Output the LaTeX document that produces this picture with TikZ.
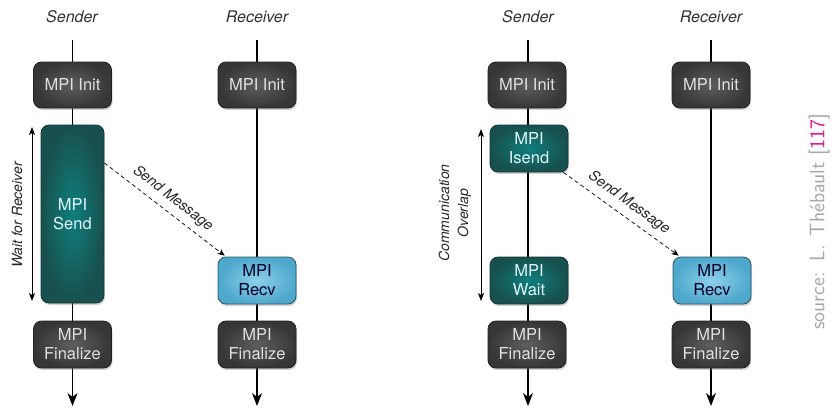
\documentclass[tikz,border=0pt]{standalone}
\usepackage{fontspec}
\newfontfamily\heros{TeX Gyre Heros}
\usetikzlibrary{arrows.meta,shadows,shadings,calc}
\definecolor{dkout}{HTML}{363636}
\definecolor{dkin}{HTML}{5E5E5E}
\definecolor{dkbd}{HTML}{202020}
\definecolor{tlout}{HTML}{17504E}
\definecolor{tlin}{HTML}{0F7F7D}
\definecolor{tlbd}{HTML}{163432}
\definecolor{blout}{HTML}{4EA8CC}
\definecolor{blin}{HTML}{8CCFEA}
\definecolor{blbd}{HTML}{2A5468}
\definecolor{srcgray}{HTML}{A8A8A8}
\definecolor{srcpink}{HTML}{E0148C}
\tikzset{
  boxbase/.style={rounded corners=8pt, draw, line width=0.8pt, align=center,
    inner sep=0pt, minimum width=78pt, minimum height=46pt,
    font=\heros\fontsize{16.5}{19}\selectfont,
    drop shadow={shadow xshift=1pt, shadow yshift=-2pt, opacity=0.35}},
  darkbox/.style={boxbase, draw=dkbd, inner color=dkin, outer color=dkout, text=white!88!black},
  tealbox/.style={boxbase, draw=tlbd, inner color=tlin, outer color=tlout, text=white!88!cyan},
  bluebox/.style={boxbase, draw=blbd, inner color=blin, outer color=blout, text=black!85!blue},
  collabel/.style={font=\heros\itshape\fontsize{16}{18}\selectfont, text=black!80},
  sidelabel/.style={font=\heros\itshape\fontsize{14}{19}\selectfont, text=black!85, align=center},
  msglabel/.style={font=\heros\itshape\fontsize{14.5}{16}\selectfont, text=black!85},
  lifeline/.style={line width=1.2pt, black},
  lifeend/.style={lifeline, -{Stealth[length=13pt,width=10pt,inset=4pt]}},
  msg/.style={line width=0.7pt, dash pattern=on 4pt off 3pt, -{Stealth[length=7pt,width=6pt,inset=2pt]}},
  span/.style={line width=0.8pt, {Stealth[length=8pt,width=6pt,inset=2pt]}-{Stealth[length=8pt,width=6pt,inset=2pt]}}
}
\begin{document}
\begin{tikzpicture}[x=1pt,y=-1pt]
\useasboundingbox (0,0) rectangle (832,408);
% ---------------- left diagram ----------------
\node[collabel] (lsl) at (72,17) {Sender};
\node[collabel] (lrl) at (257,17) {Receiver};
\coordinate (lstop) at (72.5,40);
\coordinate (lsbot) at (72.5,406);
\coordinate (lrtop) at (257,40);
\coordinate (lrbot) at (257,406);
\draw[lifeline] (lstop) -- (72.5,62);
\draw[lifeline] (lrtop) -- (257,62);
\draw[lifeline] (72.5,100) -- (72.5,330);
\draw[lifeline] (257,100) -- (257,330);
\draw[lifeend] (72.5,360) -- (lsbot);
\draw[lifeend] (257,360) -- (lrbot);
\node[darkbox] (lsinit) at (72.5,85) {MPI Init};
\node[tealbox, minimum width=63pt, minimum height=178pt] (lssend) at (72.5,214) {MPI\\Send};
\node[darkbox, minimum height=47pt] (lsfin) at (72.5,344.5) {MPI\\Finalize};
\node[darkbox] (lrinit) at (257,85) {MPI Init};
\node[bluebox, minimum height=47pt] (lrrecv) at (257,280.5) {MPI\\Recv};
\node[darkbox, minimum height=47pt] (lrfin) at (257,344.5) {MPI\\Finalize};
\coordinate (lwa) at (32,127);
\coordinate (lwb) at (32,301);
\draw[span] (lwa) -- (lwb);
\node[sidelabel, rotate=90] (lwl) at (17,215) {Wait for Receiver};
\draw[msg] (lssend.58) -- node[midway, sloped, above=3pt, msglabel] {Send Message} ([xshift=7pt,yshift=1pt]lrrecv.north west);
% ---------------- right diagram ----------------
\node[collabel] (rsl) at (528,17) {Sender};
\node[collabel] (rrl) at (711,17) {Receiver};
\coordinate (rstop) at (528,40);
\coordinate (rsbot) at (528,406);
\coordinate (rrtop) at (711,40);
\coordinate (rrbot) at (711,406);
\draw[lifeline] (rstop) -- (528,62);
\draw[lifeline] (rrtop) -- (711,62);
\draw[lifeline] (528,100) -- (528,330);
\draw[lifeline] (711,100) -- (711,330);
\draw[lifeend] (528,360) -- (rsbot);
\draw[lifeend] (711,360) -- (rrbot);
\node[darkbox] (rsinit) at (527,85) {MPI Init};
\node[tealbox, minimum height=47pt] (rsisend) at (529,148.5) {MPI\\Isend};
\node[tealbox, minimum height=47pt] (rswait) at (529,280.5) {MPI\\Wait};
\node[darkbox, minimum height=47pt] (rsfin) at (527,344.5) {MPI\\Finalize};
\node[darkbox] (rrinit) at (711,85) {MPI Init};
\node[bluebox, minimum height=47pt] (rrrecv) at (712,280.5) {MPI\\Recv};
\node[darkbox, minimum height=47pt] (rrfin) at (711,344.5) {MPI\\Finalize};
\coordinate (rwa) at (481,129);
\coordinate (rwb) at (481,301);
\draw[span] (rwa) -- (rwb);
\node[sidelabel, rotate=90] (rwl) at (455,213) {Communication\\Overlap};
\draw[msg] ([xshift=-5pt]rsisend.south east) -- node[midway, sloped, above=3pt, msglabel] {Send Message} ([xshift=6pt,yshift=1pt]rrrecv.north west);
% ---------------- source ----------------
\node[rotate=90, text=srcgray, font=\sffamily\fontsize{21}{24}\selectfont] (src) at (819,222) {source:\hspace{11pt}L.\hspace{9pt}Th\'ebault\hspace{7pt}[\textcolor{srcpink}{117}]};
\end{tikzpicture}
\end{document}
